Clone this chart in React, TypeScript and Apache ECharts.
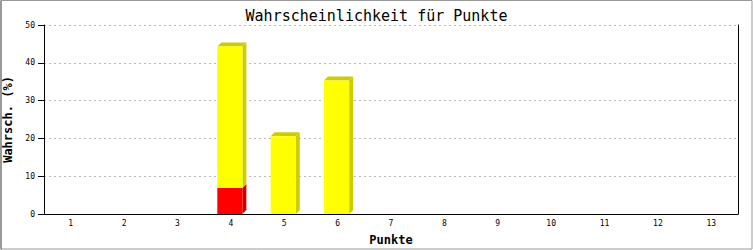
import React, { useEffect, useRef } from "react";
import * as echarts from "echarts";

const categories = ["1", "2", "3", "4", "5", "6", "7", "8", "9", "10", "11", "12", "13"];
const redValues = [0, 0, 0, 6.9, 0, 0, 0, 0, 0, 0, 0, 0, 0];
const yellowValues = [0, 0, 0, 37.4, 20.6, 35.3, 0, 0, 0, 0, 0, 0, 0];
const yTicks = [0, 10, 20, 30, 40, 50];

const MONO = "'DejaVu Sans Mono', 'Liberation Mono', monospace";

export default function App() {
  const ref = useRef<HTMLDivElement>(null);
  useEffect(() => {
    document.body.style.margin = "0";
    const chart = echarts.init(ref.current!, null, { renderer: "svg" });
    const data = categories.map((_, i) => [i, redValues[i], yellowValues[i]]);
    const DEPTH = 4;
    const renderItem = (params: any, api: any) => {
      const idx = api.value(0);
      const r = api.value(1);
      const y = api.value(2);
      const band = api.size([1, 0])[0];
      const base = api.coord([idx, 0]);
      const bw = band * 0.47;
      const x0 = base[0] - bw / 2 - 1;
      const x1 = x0 + bw;
      const children: any[] = [];
      const segs: { from: number; to: number; color: string; dark: string }[] = [];
      if (r > 0) segs.push({ from: 0, to: r, color: "#ff0000", dark: "#cc0000" });
      if (y > 0) segs.push({ from: r, to: r + y, color: "#ffff00", dark: "#cccc00" });
      segs.forEach((s, k) => {
        const yb = api.coord([idx, s.from])[1];
        const yt = api.coord([idx, s.to])[1];
        const isTop = k === segs.length - 1;
        children.push({
          type: "polygon",
          shape: {
            points: [
              [x1, yb],
              [x1, yt],
              [x1 + DEPTH, yt - DEPTH],
              [x1 + DEPTH, yb - DEPTH],
            ],
          },
          style: { fill: s.dark },
        });
        if (isTop) {
          children.push({
            type: "polygon",
            shape: {
              points: [
                [x0, yt],
                [x0 + DEPTH, yt - DEPTH],
                [x1 + DEPTH, yt - DEPTH],
                [x1, yt],
              ],
            },
            style: { fill: s.dark },
          });
        }
        children.push({
          type: "rect",
          shape: { x: x0, y: yt, width: bw, height: yb - yt },
          style: { fill: s.color },
        });
      });
      return { type: "group", children };
    };
    chart.setOption({
      animation: false,
      backgroundColor: "#ffffff",
      title: {
        text: "Wahrscheinlichkeit für Punkte",
        left: "center",
        top: 3,
        textStyle: { fontFamily: MONO, fontSize: 15, fontWeight: "normal", color: "#000" },
      },
      grid: { left: 44, right: 15, top: 25, bottom: 36, containLabel: false, outerBoundsMode: "none" },
      xAxis: {
        type: "category",
        data: categories,
        boundaryGap: true,
        name: "Punkte",
        nameLocation: "middle",
        nameGap: 20,
        nameTextStyle: { fontFamily: MONO, fontSize: 12, fontWeight: "bold", color: "#000" },
        axisLine: { lineStyle: { color: "#000", width: 1 } },
        axisTick: { show: false },
        axisLabel: { fontFamily: MONO, fontSize: 8, color: "#000", margin: 5 },
        splitLine: { show: false },
      },
      yAxis: [
        {
          type: "value",
          min: yTicks[0],
          max: yTicks[yTicks.length - 1],
          interval: 10,
          name: "Wahrsch. (%)",
          nameLocation: "middle",
          nameGap: 23,
          nameTextStyle: { fontFamily: MONO, fontSize: 12, fontWeight: "bold", color: "#000" },
          axisLine: { show: true, lineStyle: { color: "#000", width: 1 } },
          axisTick: { show: true, inside: false, length: 6, lineStyle: { color: "#000" } },
          axisLabel: { fontFamily: MONO, fontSize: 8, color: "#000", margin: 9 },
          splitLine: { show: true, lineStyle: { color: "#bbbbbb", type: [2, 3], width: 1 } },
        },
        {
          type: "value",
          min: 0,
          max: 50,
          interval: 10,
          position: "right",
          axisLine: { show: true, lineStyle: { color: "#000", width: 1 } },
          axisTick: { show: false },
          axisLabel: { show: false },
          splitLine: { show: false },
        },
      ],
      series: [
        {
          type: "custom",
          renderItem,
          data,
          encode: { x: 0, y: [1, 2] },
          clip: false,
        },
      ],
      graphic: [
        {
          type: "rect",
          shape: { x: 0.5, y: 0.5, width: 751.5, height: 248.5 },
          style: { fill: "none", stroke: "#999999", lineWidth: 1 },
          silent: true,
        },
        {
          type: "line",
          shape: { x1: 1.5, y1: 0, x2: 1.5, y2: 250 },
          style: { stroke: "#999999", lineWidth: 1 },
          silent: true,
        },
      ],
    });
    return () => chart.dispose();
  }, []);
  return <div ref={ref} style={{ width: 753, height: 250 }} />;
}
